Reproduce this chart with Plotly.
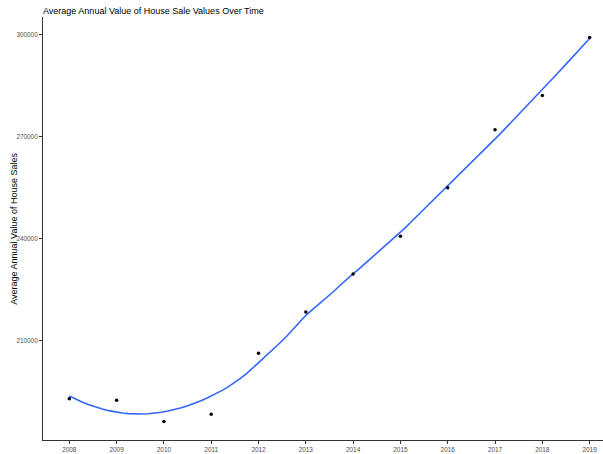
import numpy as np
import plotly.graph_objects as go

# Average annual house sale value by year
years = [2008, 2009, 2010, 2011, 2012, 2013, 2014, 2015, 2016, 2017, 2018, 2019]
avg_value = [193000, 192600, 186300, 188500, 206400, 218500, 229700, 240800,
             255000, 272100, 282100, 299200]

x_ticks = years
y_ticks = [210000, 240000, 270000, 300000]


def loess(x, y, grid, span=0.75):
    """Local quadratic regression with tricube weights (R loess defaults)."""
    x = np.asarray(x, float)
    y = np.asarray(y, float)
    n = len(x)
    q = int(np.floor(n * span))
    out = []
    for g in grid:
        d = np.abs(x - g)
        dmax = np.sort(d)[q - 1]
        u = np.clip(d / dmax, 0, 1)
        w = (1 - u ** 3) ** 3
        X = np.column_stack([np.ones(n), x - g, (x - g) ** 2])
        W = np.diag(w)
        beta = np.linalg.lstsq(X.T @ W @ X, X.T @ W @ y, rcond=None)[0]
        out.append(beta[0])
    return np.array(out)


grid = np.linspace(min(years), max(years), 80)
smooth = loess(years, avg_value, grid)

fig = go.Figure()
fig.add_trace(go.Scatter(
    x=grid, y=smooth, mode="lines",
    line=dict(color="#3366FF", width=1.6),
    hoverinfo="skip", showlegend=False,
))
fig.add_trace(go.Scatter(
    x=years, y=avg_value, mode="markers",
    marker=dict(color="black", size=3.5),
    showlegend=False,
))

tick_font = dict(family="Liberation Sans, Arial, sans-serif", size=6.4, color="#4D4D4D")

fig.update_layout(
    width=603, height=454,
    margin=dict(l=43, r=0, t=17, b=14),
    paper_bgcolor="white", plot_bgcolor="white",
    font=dict(family="Liberation Sans, Arial, sans-serif"),
    title=dict(
        text="Average Annual Value of House Sale Values Over Time",
        xref="container", yref="container",
        x=43 / 603, xanchor="left",
        y=1 - 10.5 / 454, yanchor="middle",
        font=dict(size=9, color="black"),
        pad=dict(l=0, r=0, t=0, b=0),
    ),
    xaxis=dict(
        range=[2007.444, 2019.283],
        tickmode="array", tickvals=x_ticks, ticktext=[str(v) for v in x_ticks],
        showgrid=False, zeroline=False,
        showline=True, linecolor="#333333", linewidth=1,
        ticks="outside", ticklen=3, tickwidth=1, tickcolor="#333333",
        tickfont=tick_font,
    ),
    yaxis=dict(
        range=[180900, 305200],
        tickmode="array", tickvals=y_ticks, ticktext=[str(v) for v in y_ticks],
        showgrid=False, zeroline=False,
        showline=True, linecolor="#333333", linewidth=1,
        ticks="outside", ticklen=3, tickwidth=1, tickcolor="#333333",
        tickfont=tick_font,
    ),
    annotations=[dict(
        text="Average Annual Value of House Sales",
        xref="paper", yref="paper",
        x=(13.3 - 43) / 560, y=0.5,
        xanchor="center", yanchor="middle",
        textangle=-90, showarrow=False,
        font=dict(size=9, color="black"),
    )],
)

fig.write_html("out.html")
